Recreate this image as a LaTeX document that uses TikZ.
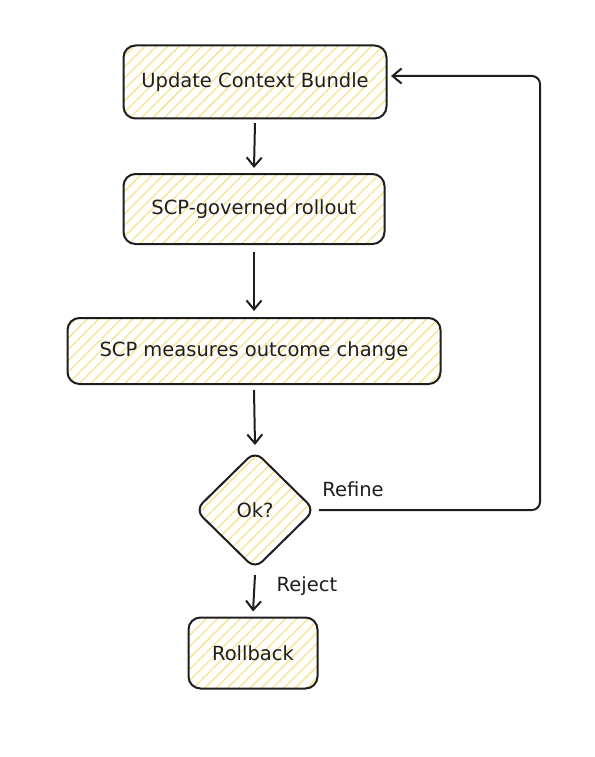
\documentclass[tikz,border=0pt]{standalone}
\usepackage{fontspec}
\setmainfont{DejaVu Sans}
\usepackage{tikz}
\usetikzlibrary{
	arrows.meta,
	patterns.meta,
	shapes.geometric
}
\definecolor{HatchYellow}{RGB}{255,222,120}
\definecolor{InkBlack}{RGB}{30,30,30}

\begin{document}
\begin{tikzpicture}[x=1pt, y=-1pt,
		box/.style={draw=InkBlack, line width=2pt, rounded corners=12pt,
			pattern={Lines[angle=45, distance=8pt, line width=1.1pt]}, pattern color=HatchYellow,
			font=\fontsize{19.5}{23}\selectfont, text=InkBlack},
		decision/.style={box, diamond, rounded corners=10pt, inner sep=0pt,
			minimum width=120pt, minimum height=118pt},
		arrow/.style={draw=InkBlack, line width=2pt, -{Straight Barb[length=9pt, width=15pt, line width=2pt]}},
		lbl/.style={font=\fontsize{19.5}{23}\selectfont, text=InkBlack}]
		\useasboundingbox (0,0) rectangle (594,757);
		\node[box, minimum width=263pt, minimum height=73pt] (update) at (255,82) {Update Context Bundle};
		\node[box, minimum width=261pt, minimum height=70pt] (rollout) at (254,209) {SCP-governed rollout};
		\node[box, minimum width=373pt, minimum height=66pt] (measure) at (254,351) {SCP measures outcome change};
		\node[decision] (ok) at (255,510) {Ok?};
		\node[box, minimum width=129pt, minimum height=71pt] (rollback) at (253,653) {Rollback};
		\coordinate (back) at (391,76);
		
		\draw[arrow] ([yshift=-4pt]update.south) -- ([yshift=5pt]rollout.north);
		\draw[arrow] ([yshift=-7pt]rollout.south) -- ([yshift=6pt]measure.north);
		\draw[arrow] ([yshift=-5pt]measure.south) -- ([yshift=5pt]ok.north);
		\draw[arrow] ([yshift=-5pt]ok.south) -- node[lbl, right=18pt, pos=0.3] (reject) {Reject} ([yshift=5pt]rollback.north);
		\draw[arrow, rounded corners=8pt] ([xshift=3pt]ok.east) -- (540,510) -- (540,76) -- (back);
		\node[lbl] (refine) at (353,489) {Refine};
	\end{tikzpicture}
\end{document}
